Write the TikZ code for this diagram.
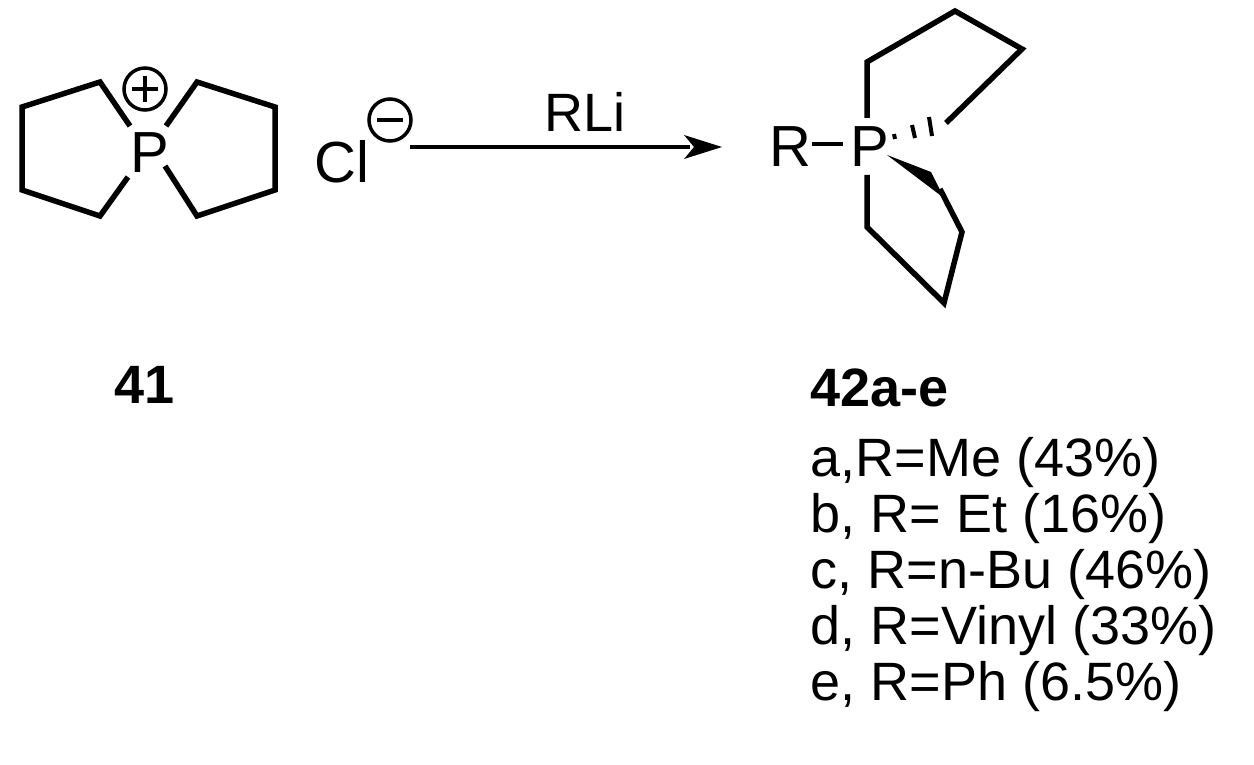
\documentclass[tikz,border=0pt]{standalone}
\usepackage{fontspec}
\setmainfont{Liberation Sans}
\begin{document}
\begin{tikzpicture}[x=1pt,y=-1pt,line width=5.5pt,line join=miter,
 lbl/.style={inner sep=0pt,font=\fontsize{54}{60}\selectfont},
 atom/.style={inner sep=0pt,font=\fontsize{58}{60}\selectfont}]
\useasboundingbox (0,0) rectangle (1254,765);
% compound 41
\node[atom] (P1) at (150,153) {P};
\draw (130,126) -- (100,82) -- (22,107) -- (22,190) -- (100,216) -- (128,177);
\draw (166,126) -- (197,82) -- (275,107) -- (275,190) -- (197,216) -- (165,166);
\node[draw,circle,line width=3.5pt,minimum size=42pt,inner sep=0pt] (plus) at (145,89) {};
\draw[line width=3.5pt] (132,89) -- (158,89) (145,76) -- (145,102);
\node[atom] (Cl) at (342,162) {Cl};
\node[draw,circle,line width=3.5pt,minimum size=42pt,inner sep=0pt] (minus) at (390,120) {};
\draw[line width=3.5pt] (377,120) -- (403,120);
% arrow
\coordinate (a1) at (410,147);
\coordinate (a2) at (722,147);
\draw[line width=3.5pt] (a1) -- (690,147);
\fill (722,147) -- (684,135) -- (694,147) -- (684,159) -- cycle;
\node[lbl] (rli) at (585,112) {RLi};
% compound 42
\node[atom] (R) at (790,147) {R};
\node[atom] (P2) at (870,147) {P};
\draw[line width=4pt] (812,144) -- (843,144);
\draw (867,118) -- (867,62) -- (955,11) -- (1022,49) -- (946,123);
\draw[line width=4pt] (894,134) -- (895,139) (912,125) -- (915,138) (929,117) -- (932,136);
\fill (887,155) -- (931,172) -- (944,198) -- cycle;
\draw (940,189) -- (962,232) -- (944,303) -- (867,227) -- (867,175);
% labels
\node[atom,font=\fontsize{54}{60}\selectfont\bfseries] (l41) at (145,385) {41};
\node[atom,font=\fontsize{54}{60}\selectfont\bfseries,anchor=west] (l42) at (808,388) {42a-e};
\node[lbl,anchor=west] (la) at (808,463) {a,R=Me (43\%)};
\node[lbl,anchor=west] (lb) at (808,519) {b, R= Et (16\%)};
\node[lbl,anchor=west] (lc) at (808,575) {c, R=n-Bu (46\%)};
\node[lbl,anchor=west] (ld) at (808,631) {d, R=Vinyl (33\%)};
\node[lbl,anchor=west] (le) at (808,687) {e, R=Ph (6.5\%)};
\end{tikzpicture}
\end{document}
